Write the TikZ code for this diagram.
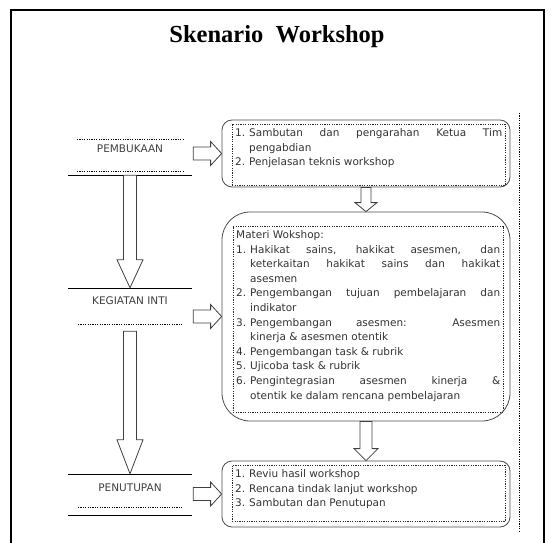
\documentclass[tikz,border=0pt]{standalone}
\usepackage{fontspec}
\setmainfont{Liberation Serif}
\newfontfamily\isianfont{DejaVu Sans}
\newcommand{\isian}{\isianfont\fontsize{10.5}{14.6}\selectfont\lineskip=0pt\relax}
\newcommand{\butir}[2]{\makebox[14pt][l]{#1}\parbox[t]{\dimexpr\linewidth-14pt\relax}{\isian\strut#2\strut}}
\usetikzlibrary{calc}
\tikzstyle{tahap}=[inner sep=0pt,minimum width=106pt,font=\isian,text=black!75,anchor=base]
\tikzstyle{kotak}=[draw=black!70,line width=0.8pt,minimum width=288pt]
\tikzstyle{isi}=[draw=black!85,dash pattern=on 1.2pt off 1.2pt,anchor=north west,inner xsep=3pt,inner ysep=2pt,align=justify,font=\isian,text=black!80]
\tikzstyle{titik}=[dash pattern=on 1.2pt off 1.2pt]
\tikzset{panah/.style n args={3}{draw=black!75,fill=white,line width=0.8pt,to path={
    ($(\tikztostart)!#1!90:(\tikztotarget)$)
    -- ($($(\tikztotarget)!#3!(\tikztostart)$)!#1!90:(\tikztotarget)$)
    -- ($($(\tikztotarget)!#3!(\tikztostart)$)!#2!90:(\tikztotarget)$)
    -- (\tikztotarget)
    -- ($($(\tikztotarget)!#3!(\tikztostart)$)!#2!-90:(\tikztotarget)$)
    -- ($($(\tikztotarget)!#3!(\tikztostart)$)!#1!-90:(\tikztotarget)$)
    -- ($(\tikztostart)!#1!-90:(\tikztotarget)$) -- cycle}}}

\begin{document}
\begin{tikzpicture}[x=1pt,y=-1pt]
    \useasboundingbox (0,0) rectangle (554,543);
    \draw [line width=1.2pt] (11,543) -- (11,10) -- (544,10) -- (544,543);
    \draw [titik,line width=1pt] (519,113) -- (519,531);
    \node [anchor=base] (judul) at (277,43) {\bfseries\fontsize{24.5}{28}\selectfont Skenario\ \ Workshop};

    % tahapan di kiri
    \node [tahap,text height=13pt,text depth=23pt] (buka) at (130,152) {PEMBUKAAN};
    \node [tahap,text height=16pt,text depth=27pt] (inti) at (130,304) {KEGIATAN INTI};
    \node [tahap,text height=17pt,text depth=24pt] (tutup) at (130,491) {PENUTUPAN};
    \draw [titik,line width=0.8pt] (77,139) -- (184,139) (77,171) -- (184,171);
    \draw [titik,line width=0.8pt] (78,324) -- (183,324) (78,507) -- (183,507);
    \draw [line width=0.8pt] (68,175) -- (192,175) (68,288) -- (192,288);
    \draw [line width=0.8pt] (68,474) -- (192,474) (68,515) -- (192,515);

    % kotak isi di kanan
    \node [kotak,rounded corners=10pt,minimum height=67pt] (kotak1) at (366,153.5) {};
    \node [kotak,rounded corners=28pt,minimum height=209pt] (kotak2) at (366,316.5) {};
    \node [kotak,rounded corners=10pt,minimum height=66pt] (kotak3) at (366,494) {};
    \node [isi,text width=267pt,text depth=46.8pt] (isi1) at (232,124) {\butir{1.}{Sambutan dan pengarahan Ketua Tim\linebreak pengabdian}\par
        \butir{2.}{Penjelasan teknis workshop}};
    \node [isi,text width=264pt,text depth=171.8pt] (isi2) at (233,226) {\strut Materi Wokshop:\par
        \butir{1.}{Hakikat sains, hakikat asesmen, dan\linebreak keterkaitan hakikat sains dan hakikat\linebreak asesmen}\par
        \butir{2.}{Pengembangan tujuan pembelajaran dan\linebreak indikator}\par
        \butir{3.}{Pengembangan asesmen: Asesmen\linebreak kinerja \& asesmen otentik}\par
        \butir{4.}{Pengembangan task \& rubrik}\par
        \butir{5.}{Ujicoba task \& rubrik}\par
        \butir{6.}{Pengintegrasian asesmen kinerja \&\linebreak otentik ke dalam rencana pembelajaran}};
    \node [isi,text width=267pt,text depth=41.8pt] (isi3) at (232,465) {\butir{1.}{Reviu hasil workshop}\par
        \butir{2.}{Rencana tindak lanjut workshop}\par
        \butir{3.}{Sambutan dan Penutupan}};

    % panah
    \draw [panah={6.5pt}{13pt}{28pt}] (buka.south) to (inti.north);
    \draw [panah={6.5pt}{13pt}{34pt}] (inti.south) to (tutup.north);
    \draw [panah={6.5pt}{12pt}{11pt}] ($(buka.east |- kotak1.west)+(10,0)$) to (kotak1.west);
    \draw [panah={6.5pt}{12pt}{11pt}] ($(inti.east |- kotak2.west)+(10,0)$) to (kotak2.west);
    \draw [panah={6.5pt}{12pt}{11pt}] ($(tutup.east |- kotak3.west)+(10,0)$) to (kotak3.west);
    \draw [panah={5pt}{11pt}{9pt}] (kotak1.south) to (kotak2.north);
    \draw [panah={6pt}{12pt}{12pt}] (kotak2.south) to (kotak3.north);
\end{tikzpicture}
\end{document}
